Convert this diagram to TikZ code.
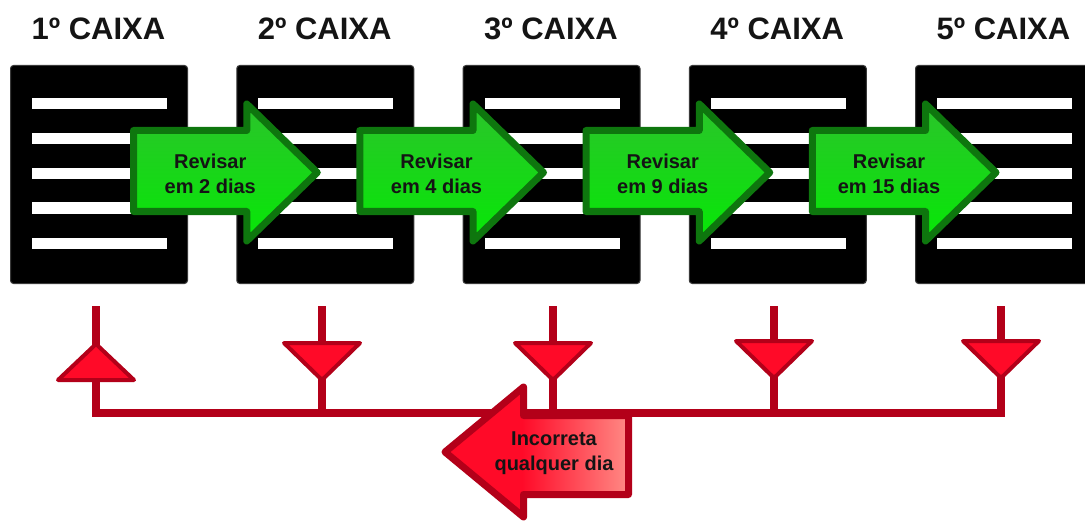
\documentclass[tikz,border=0pt]{standalone}
\usepackage{fontspec}
\setmainfont{Liberation Sans}
\usetikzlibrary{calc}
\definecolor{boxgray}{HTML}{3A3A3A}
\definecolor{gborder}{HTML}{0E760E}
\definecolor{gtop}{HTML}{2BC42B}
\definecolor{gbot}{HTML}{06E806}
\definecolor{rline}{HTML}{B30019}
\definecolor{rfill}{HTML}{FF0A28}
\definecolor{rlight}{HTML}{FF8A85}
\definecolor{txt}{HTML}{141414}
\pgfdeclarehorizontalshading{redarrowshade}{100bp}{color(0bp)=(rfill); color(25bp)=(rfill); color(46bp)=(rfill); color(75bp)=(rlight); color(100bp)=(rlight)}
\tikzset{
  caixa/.style={fill=black, draw=boxgray, line width=1pt, rounded corners=3pt,
    minimum width=177pt, minimum height=218pt, inner sep=0pt, anchor=north west},
  titulo/.style={font=\bfseries\fontsize{31}{36}\selectfont, text=txt},
  garrow/.style={draw=gborder, line width=7pt, line join=round, top color=gtop, bottom color=gbot},
  gtext/.style={font=\bfseries\fontsize{20}{25}\selectfont, text=txt, align=center},
  rl/.style={draw=rline, line width=8pt, line join=miter},
  rtri/.style={draw=rline, fill=rfill, line width=4pt, line join=round},
  rarrow/.style={draw=rline, line width=7pt, line join=round, shading=redarrowshade},
}
\begin{document}
\begin{tikzpicture}[x=1pt,y=-1pt]
\useasboundingbox (0,0) rectangle (1085,524);
\clip (0,0) rectangle (1085,524);
% boxes and titles
\foreach \i/\x in {1/10,2/236.25,3/462.5,4/688.75,5/915}{
  \node[caixa] (b\i) at (\x,65) {};
  \foreach \y in {104,139,174,208,243}
    \fill[white] (\x+22,\y-5.5) rectangle (\x+157,\y+5.5);
  \node[titulo] (t\i) at (\x+88.5,29) {{\i}º CAIXA};
}
% green arrows
\foreach \i/\x/\xn/\d in {1/10/236.25/2,2/236.25/462.5/4,3/462.5/688.75/9,4/688.75/915/15}{
  \draw[garrow] (\x+123.5,130.5) -- (\xn+10.5,130.5) -- (\xn+10.5,104) -- (\xn+81,172.5)
    -- (\xn+10.5,241) -- (\xn+10.5,211.5) -- (\x+123.5,211.5) -- cycle;
  \node[gtext] (r\i) at (\xn-26,174) {Revisar\\em \d\ dias};
}
% red connector
\foreach \i/\sx in {1/96,2/322,3/553,4/774,5/1001}{
  \coordinate (s\i) at (\sx,306);
  \coordinate (h\i) at (\sx,413);
}
\draw[rl] (s1) -- (h1) -- (h5) -- (s5);
\foreach \i in {2,3,4} \draw[rl] (s\i) -- (h\i);
% triangles
\draw[rtri] ($(s1)+(0,38)$) -- ($(s1)+(38,74)$) -- ($(s1)+(-38,74)$) -- cycle;
\foreach \i/\dy in {2/37,3/37,4/35,5/35}
  \draw[rtri] ($(s\i)+(-38,\dy)$) -- ($(s\i)+(38,\dy)$) -- ($(s\i)+(0,\dy+37)$) -- cycle;
% red arrow
\draw[rarrow] (628.5,415.5) -- (523.5,415.5) -- (523.5,387) -- (445,452) -- (523.5,517)
  -- (523.5,494.5) -- (628.5,494.5) -- cycle;
\node[gtext] (inc) at (554,453) {Incorreta\\qualquer dia};
\end{tikzpicture}
\end{document}
